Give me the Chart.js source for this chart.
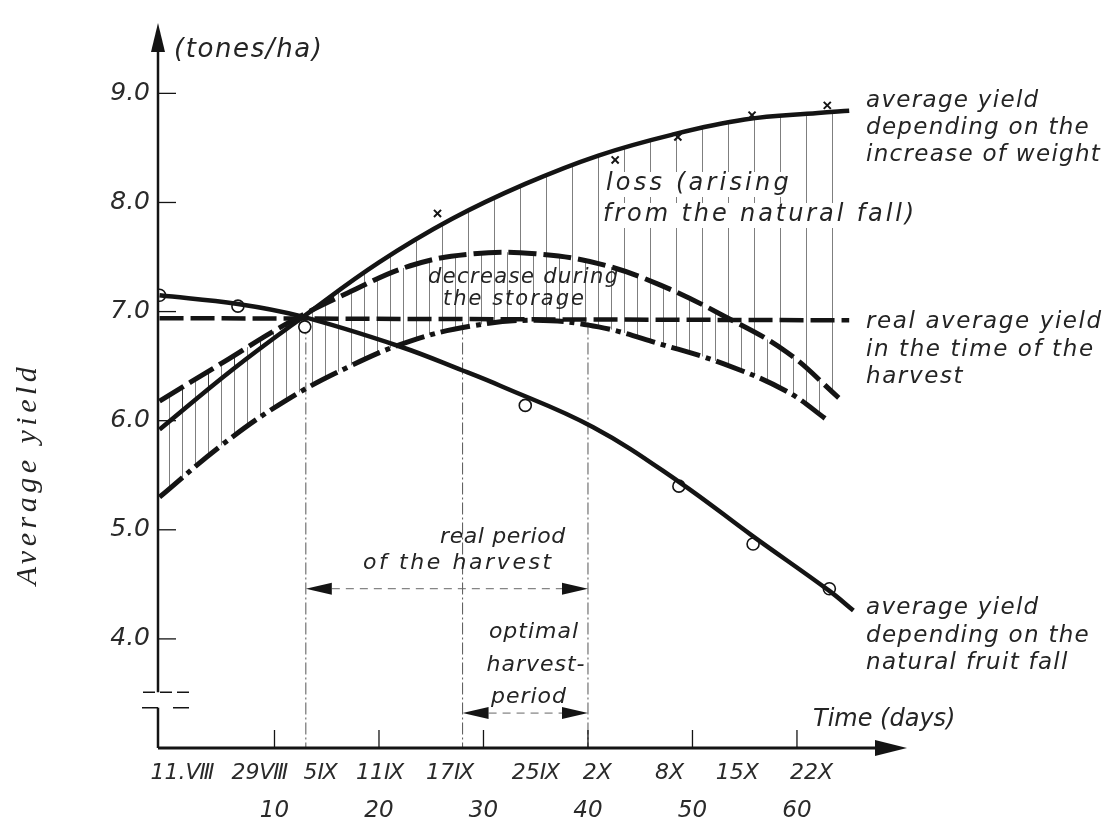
<!DOCTYPE html>
<html>
<head>
<meta charset="utf-8">
<title>Average yield</title>
<script src="https://cdn.jsdelivr.net/npm/chart.js@4.4.1/dist/chart.umd.min.js"></script>
<style>
  html, body { margin: 0; padding: 0; background: #fff; }
  #wrap { width: 1109px; height: 825px; }
</style>
</head>
<body>
<div id="wrap"><canvas id="chart" width="1109" height="825"></canvas></div>
<script>
// axis ticks
const yTicks = [4, 5, 6, 7, 8, 9];
const dayTicks = [10, 20, 30, 40, 50, 60];
const dateLabels = ['11.Ⅷ', '29Ⅷ', '5Ⅸ', '11Ⅸ', '17Ⅸ', '25Ⅸ', '2Ⅹ', '8Ⅹ', '15Ⅹ', '22Ⅹ'];
const dateDays = [1.2, 8.6, 14.4, 20.1, 26.8, 35.0, 40.9, 47.8, 54.3, 61.4];

// yield depending on the increase of weight
const weightDays = [-1, 6, 13, 20, 27, 34, 41, 48, 55, 62, 65];
const weightYield = [5.92, 6.47, 6.97, 7.45, 7.85, 8.17, 8.43, 8.62, 8.76, 8.82, 8.84];
const weightObsDays = [25.6, 42.6, 48.6, 55.7, 62.9];
const weightObs = [7.90, 8.39, 8.60, 8.80, 8.89];

// storage band (upper dashed, lower dash-dot)
const storeTopDays = [-1, 5, 11, 17, 23, 29, 35, 41, 47, 53, 59, 64];
const storeTop = [6.18, 6.53, 6.88, 7.17, 7.42, 7.53, 7.53, 7.44, 7.24, 6.96, 6.63, 6.21];
const storeLowDays = [-1, 5, 11, 17, 23, 29, 35, 41, 47, 53, 59, 63];
const storeLow = [5.30, 5.78, 6.18, 6.49, 6.73, 6.87, 6.92, 6.86, 6.70, 6.52, 6.27, 6.00];

// real average yield at harvest time
const realDays = [-1, 65];
const realYield = [6.94, 6.92];

// yield depending on the natural fruit fall
const fallDays = [-1, 6.5, 12.4, 22, 28, 31.6, 40.5, 48.7, 55.8, 63.1, 65.4];
const fallYield = [7.15, 7.07, 6.96, 6.68, 6.46, 6.32, 5.94, 5.44, 4.94, 4.44, 4.26];
const fallObsDays = [-1, 6.5, 12.9, 34.0, 48.7, 55.8, 63.1];
const fallObs = [7.15, 7.05, 6.86, 6.14, 5.40, 4.87, 4.46];

// harvest periods (days)
const realPeriod = [13, 40];
const optimalPeriod = [28, 40];
const markDays = [13, 28, 40];

const ink = '#141414';
const pts = (xs, ys) => xs.map((d, i) => ({ x: d, y: ys[i] }));

const canvas = document.getElementById('chart');
function hatch(w) {
    const c = document.createElement('canvas');
    c.width = w; c.height = 4;
    const g = c.getContext('2d');
    g.fillStyle = 'rgba(0,0,0,0.5)';
    g.fillRect(0, 0, 1, 4);
    return canvas.getContext('2d').createPattern(c, 'repeat');
}

function line(ctx, x1, y1, x2, y2) {
    ctx.beginPath(); ctx.moveTo(x1, y1); ctx.lineTo(x2, y2); ctx.stroke();
}
function tri(ctx, a, b, c) {
    ctx.beginPath(); ctx.moveTo(a[0], a[1]); ctx.lineTo(b[0], b[1]); ctx.lineTo(c[0], c[1]); ctx.closePath(); ctx.fill();
}
function txt(ctx, s, x, y, size, align, fam, spacing) {
    ctx.font = `italic ${size}px ${fam || '"DejaVu Sans"'}`;
    ctx.letterSpacing = (spacing == null ? 1 : spacing) + 'px';
    ctx.textAlign = align || 'left';
    ctx.textBaseline = 'middle';
    ctx.fillText(s, x, y);
}

// axes, arrows, break marks and annotations
const decor = {
    id: 'decor',
    afterDatasetsDraw(chart) {
        const { ctx, chartArea: a, scales: { x, y } } = chart;
        ctx.save();
        ctx.strokeStyle = ink; ctx.fillStyle = ink;

        // y axis with break
        const brkTop = y.getPixelForValue(3.51), brkBot = y.getPixelForValue(3.37);
        ctx.lineWidth = 2.5;
        line(ctx, a.left, a.top + 20, a.left, brkTop);
        line(ctx, a.left, brkBot, a.left, a.bottom);
        tri(ctx, [a.left, a.top], [a.left - 7, a.top + 29], [a.left + 7, a.top + 29]);
        ctx.lineWidth = 1.5;
        ctx.setLineDash([12, 5]);
        line(ctx, a.left - 15, brkTop, a.left + 32, brkTop);
        ctx.setLineDash([16, 15]);
        line(ctx, a.left - 16, brkBot, a.left + 32, brkBot);
        ctx.setLineDash([]);

        // x axis
        ctx.lineWidth = 3;
        line(ctx, a.left, a.bottom, a.right - 25, a.bottom);
        tri(ctx, [a.right, a.bottom], [a.right - 32, a.bottom - 8], [a.right - 32, a.bottom + 8]);

        // inward ticks
        ctx.lineWidth = 1.3;
        dayTicks.forEach(d => { const px = x.getPixelForValue(d); line(ctx, px, a.bottom, px, a.bottom - 18); });
        yTicks.forEach(v => { const py = y.getPixelForValue(v); line(ctx, a.left, py, a.left + 18, py); });

        // period arrows
        const arrow = (range, val) => {
            const x1 = x.getPixelForValue(range[0]), x2 = x.getPixelForValue(range[1]);
            const py = y.getPixelForValue(val);
            ctx.lineWidth = 1;
            ctx.setLineDash([8, 6]);
            ctx.strokeStyle = '#666';
            line(ctx, x1 + 26, py, x2 - 26, py);
            ctx.setLineDash([]);
            tri(ctx, [x1, py], [x1 + 26, py - 6], [x1 + 26, py + 6]);
            tri(ctx, [x2, py], [x2 - 26, py - 6], [x2 - 26, py + 6]);
        };
        arrow(realPeriod, 4.46);
        arrow(optimalPeriod, 3.32);

        // annotations
        ctx.fillStyle = '#fff';
        ctx.fillRect(603, 172, 196, 25);
        ctx.fillRect(600, 203, 320, 25);
        ctx.fillStyle = '#242424';
        txt(ctx, '(tones/ha)', 174, 50, 26, 'left', null, 1.6);
        txt(ctx, 'Time (days)', 813, 720, 24, 'left', null, 0);

        txt(ctx, 'average yield', 866, 101, 23, 'left', null, 1.3);
        txt(ctx, 'depending on the', 866, 128, 23, 'left', null, 1.3);
        txt(ctx, 'increase of weight', 866, 155, 23, 'left', null, 1.3);

        txt(ctx, 'loss (arising', 606, 184, 24, 'left', null, 3.2);
        txt(ctx, 'from the natural fall)', 603, 215, 24, 'left', null, 2.9);

        txt(ctx, 'decrease during', 428, 278, 21, 'left', null, 1.4);
        txt(ctx, 'the storage', 443, 300, 21, 'left', null, 2);

        txt(ctx, 'real period', 440, 537, 22, 'left', null, 0.6);
        txt(ctx, 'of the harvest', 363, 563, 22, 'left', null, 2.6);

        txt(ctx, 'optimal', 534, 632, 22, 'center');
        txt(ctx, 'harvest-', 536, 665, 22, 'center');
        txt(ctx, 'period', 529, 697, 22, 'center');

        txt(ctx, 'real average yield', 866, 322, 23, 'left', null, 1.6);
        txt(ctx, 'in the time of the', 866, 350, 23, 'left', null, 1.6);
        txt(ctx, 'harvest', 866, 377, 23, 'left', null, 1.6);

        txt(ctx, 'average yield', 866, 608, 23, 'left', null, 1.3);
        txt(ctx, 'depending on the', 866, 636, 23, 'left', null, 1.3);
        txt(ctx, 'natural fruit fall', 866, 663, 23, 'left', null, 1.3);

        ctx.save();
        ctx.translate(28, 474);
        ctx.rotate(-Math.PI / 2);
        txt(ctx, 'Average yield', 0, 0, 30, 'center', '"Liberation Serif"', 4.5);
        ctx.restore();

        ctx.restore();
    }
};

const hatchWide = hatch(26);
const hatchNarrow = hatch(13);

const baseLine = { borderColor: ink, pointRadius: 0, tension: 0.4, borderCapStyle: 'butt', fill: false };

new Chart(canvas, {
    type: 'line',
    data: {
        datasets: [
            { ...baseLine, label: 'weight', data: pts(weightDays, weightYield), borderWidth: 4.5, fill: 1, backgroundColor: hatchWide },
            { ...baseLine, label: 'storeTop', data: pts(storeTopDays, storeTop), borderWidth: 5, borderDash: [28, 7], fill: 2, backgroundColor: hatchNarrow },
            { ...baseLine, label: 'storeLow', data: pts(storeLowDays, storeLow), borderWidth: 5, borderDash: [30, 6, 5, 6] },
            { ...baseLine, label: 'real', data: pts(realDays, realYield), borderWidth: 4.5, borderDash: [24, 7], tension: 0 },
            { ...baseLine, label: 'fall', data: pts(fallDays, fallYield), borderWidth: 4.5 },
            { label: 'fallObs', data: pts(fallObsDays, fallObs), showLine: false, pointStyle: 'circle', pointRadius: 6,
              pointBackgroundColor: '#fff', pointBorderColor: ink, pointBorderWidth: 1.6 },
            { label: 'weightObs', data: pts(weightObsDays, weightObs), showLine: false, pointStyle: 'crossRot', pointRadius: 5,
              pointBorderColor: ink, pointBorderWidth: 2 },
            ...markDays.map(d => ({ ...baseLine, label: 'mark' + d, data: [{ x: d, y: 6.9 }, { x: d, y: 3.0 }],
              borderColor: '#555', borderWidth: 1, borderDash: [12, 3, 2, 3], tension: 0 }))
        ]
    },
    options: {
        responsive: false,
        animation: false,
        events: [],
        layout: { padding: { left: 0, right: 202, top: 17, bottom: 0 } },
        plugins: {
            legend: { display: false },
            tooltip: { enabled: false },
            filler: { drawTime: 'beforeDatasetsDraw' }
        },
        scales: {
            y: {
                type: 'linear', min: 3.0, max: 9.645,
                afterBuildTicks: s => { s.ticks = yTicks.map(v => ({ value: v })); },
                afterFit: s => { s.width = 158; },
                grid: { display: false, drawTicks: false },
                border: { display: false },
                ticks: { callback: v => v.toFixed(1), padding: 8, color: '#2a2a2a',
                          font: { family: '"DejaVu Sans"', size: 25, style: 'italic' } }
            },
            xDate: {
                type: 'linear', position: 'bottom', weight: 0, min: -1.148, max: 70.53,
                afterBuildTicks: s => { s.ticks = dateDays.map(v => ({ value: v })); },
                afterFit: s => { s.height = 44; },
                grid: { display: false, drawTicks: false },
                border: { display: false },
                ticks: { callback: (v, i) => dateLabels[i], autoSkip: false, maxRotation: 0, padding: 12, color: '#2a2a2a',
                         font: { family: '"DejaVu Sans"', size: 22, style: 'italic' } }
            },
            x: {
                type: 'linear', position: 'bottom', weight: 1, min: -1.148, max: 70.53,
                afterBuildTicks: s => { s.ticks = dayTicks.map(v => ({ value: v })); },
                afterFit: s => { s.height = 33; },
                grid: { display: false, drawTicks: false },
                border: { display: false },
                ticks: { autoSkip: false, maxRotation: 0, padding: 5, color: '#2a2a2a',
                         font: { family: '"DejaVu Sans"', size: 23, style: 'italic' } }
            }
        }
    },
    plugins: [decor]
});
</script>
</body>
</html>
